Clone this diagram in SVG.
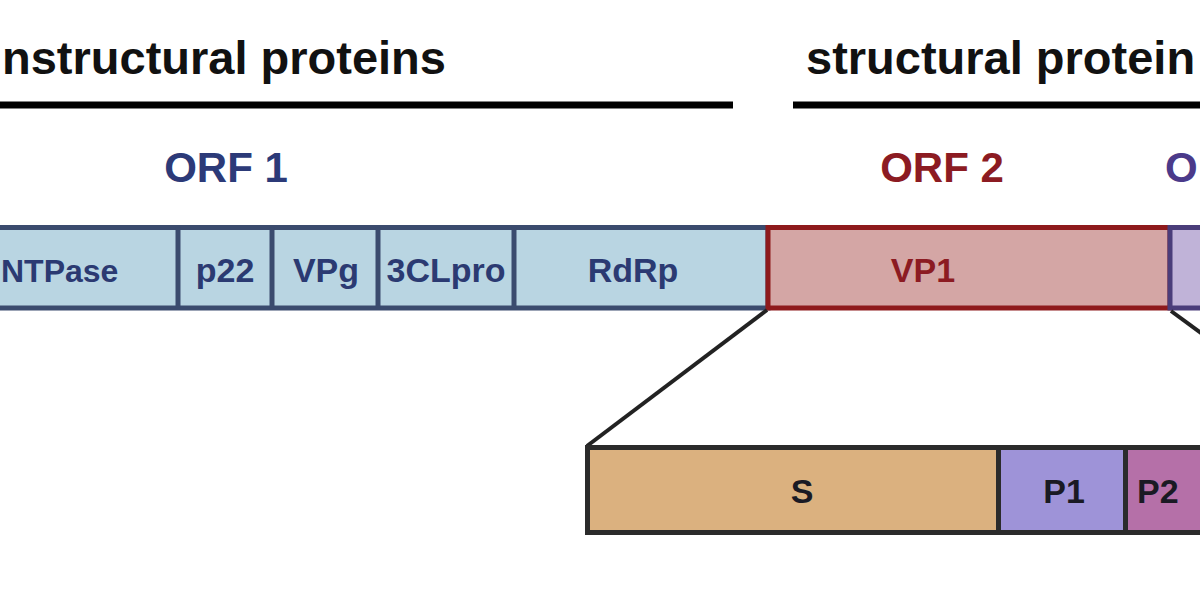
<svg xmlns="http://www.w3.org/2000/svg" width="1200" height="600" viewBox="0 0 1200 600">
  <style>
    .title { font-family: "Liberation Sans", Arial, sans-serif; font-weight: bold; font-size: 47px; fill: #111111; }
    .orf { font-family: "Liberation Sans", Arial, sans-serif; font-weight: bold; font-size: 42px; text-anchor: middle; }
    .lbl { font-family: "Liberation Sans", Arial, sans-serif; font-weight: bold; font-size: 34px; text-anchor: middle; }
    .blue { fill: #b9d5e2; stroke: #3b4b6e; stroke-width: 5; }
    .div { stroke: #3b4b6e; stroke-width: 5; }
    .navy { fill: #2b3a72; }
    .sub { stroke: #2b2b2b; stroke-width: 5; }
    .conn { stroke: #222222; stroke-width: 4; fill: none; }
    .bar { stroke: #000000; stroke-width: 7; }
  </style>
  <rect width="1200" height="600" fill="#ffffff"/>

  <g id="headings">
    <text class="title" x="2" y="74">nstructural proteins</text>
    <line class="bar" x1="0" y1="105" x2="733" y2="105"/>
    <text class="title" x="806" y="74">structural protein</text>
    <line class="bar" x1="793" y1="105" x2="1200" y2="105"/>
    <text class="orf" x="226" y="182" fill="#2c3a78">ORF 1</text>
    <text class="orf" x="942" y="182" fill="#8c1b22">ORF 2</text>
    <text class="orf" x="1165" y="182" fill="#4b3a8a" style="text-anchor:start">O</text>
  </g>

  <g id="orf1">
    <rect class="blue" x="-10" y="227.5" width="778" height="80.5"/>
    <line class="div" x1="178" y1="227.5" x2="178" y2="308"/>
    <line class="div" x1="272" y1="227.5" x2="272" y2="308"/>
    <line class="div" x1="378" y1="227.5" x2="378" y2="308"/>
    <line class="div" x1="514" y1="227.5" x2="514" y2="308"/>
  </g>
  <g id="ntpase"><text class="lbl navy" x="1" y="282" style="text-anchor:start;font-size:32px">NTPase</text></g>
  <g id="p22"><text class="lbl navy" x="225" y="282">p22</text></g>
  <g id="vpg"><text class="lbl navy" x="326" y="282">VPg</text></g>
  <g id="clpro"><text class="lbl navy" x="446" y="282">3CLpro</text></g>
  <g id="rdrp"><text class="lbl navy" x="633" y="282">RdRp</text></g>

  <g id="vp1">
    <rect x="768" y="227.5" width="402" height="80.5" fill="#d4a6a5" stroke="#8e1a1c" stroke-width="5"/>
    <text class="lbl" x="923" y="282" fill="#8c1b22">VP1</text>
  </g>
  <g id="vp2">
    <rect x="1170" y="227.5" width="50" height="80.5" fill="#c0b3d8" stroke="#4a3d7a" stroke-width="5"/>
  </g>

  <g id="connectors">
    <line class="conn" x1="767" y1="310" x2="587" y2="446"/>
    <line class="conn" x1="1171" y1="311" x2="1212" y2="341"/>
  </g>

  <g id="s">
    <rect class="sub" x="587.5" y="447.5" width="411" height="85" fill="#dbb17f"/>
    <text class="lbl" x="802" y="503" fill="#1a1a24">S</text>
  </g>
  <g id="p1">
    <rect class="sub" x="998.5" y="447.5" width="127" height="85" fill="#9e93d8"/>
    <text class="lbl" x="1064" y="503" fill="#1a1a24">P1</text>
  </g>
  <g id="p2">
    <rect class="sub" x="1125.5" y="447.5" width="100" height="85" fill="#b570a8"/>
    <text class="lbl" x="1137" y="503" fill="#1a1a24" style="text-anchor:start">P2</text>
  </g>
</svg>
